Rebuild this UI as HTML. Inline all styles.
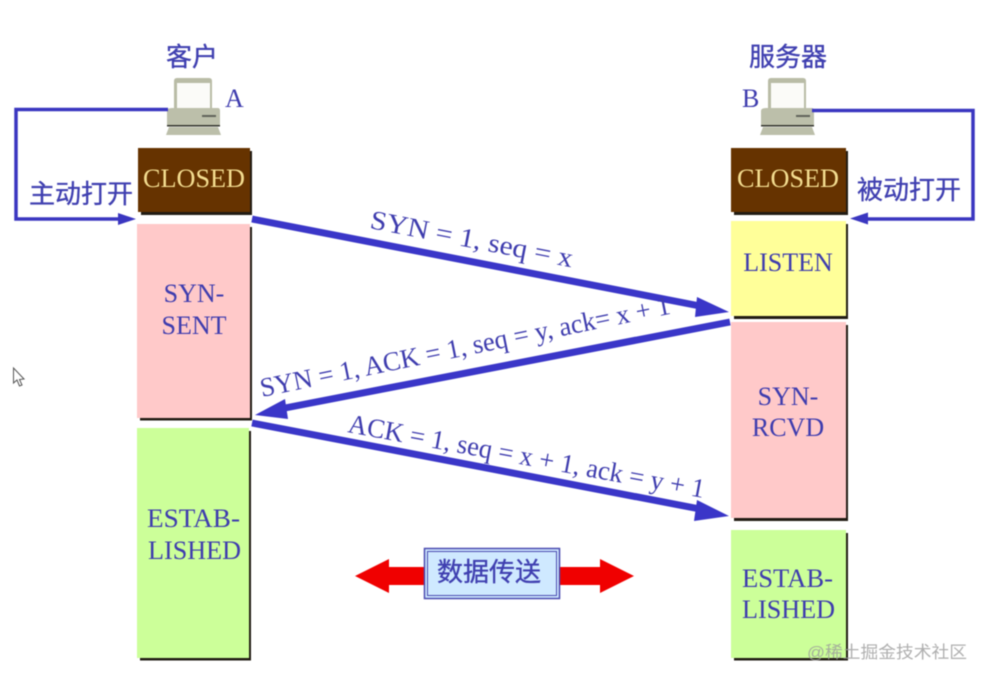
<!DOCTYPE html>
<html><head><meta charset="utf-8"><style>
html,body{margin:0;padding:0;background:#fff}
svg{display:block;filter:blur(.45px)}
text{font-family:"Liberation Serif","Noto Serif CJK SC",serif;fill:#3e3cae}
.c{font-family:"Liberation Sans","Noto Sans CJK SC",sans-serif;fill:#3f3fb0;stroke:#3f3fb0;stroke-width:.35px}
.m{text-anchor:middle}
</style></head><body>
<svg width="987" height="682" viewBox="0 0 987 682" xmlns="http://www.w3.org/2000/svg">
<rect width="987" height="682" fill="#fff"/>
<defs>
<g id="pc">
<path d="M8 3 Q8 0 11 0 L43 0 Q46 0 46 3 L46 31 L8 31Z" fill="#b9bca6"/>
<rect x="11" y="5" width="33" height="25" fill="#fbfbf8"/>
<path d="M1 33 Q1 30 6 30 L52 30 Q54 30 54 33 L54 47 L1 47Z" fill="#bcbfaa"/>
<rect x="36" y="37" width="14" height="2" fill="#60635a"/>
<rect x="1" y="47" width="53" height="1.500" fill="#33352e"/>
<path d="M3 49 L52 49 L55 57 L0 57Z" fill="#bcbfaa"/>
</g>
</defs>

<!-- shadows -->
<g fill="#221c14">
<rect x="141" y="151" width="111" height="64"/>
<rect x="140" y="227" width="112" height="193.500"/>
<rect x="140" y="431" width="111" height="229.500"/>
<rect x="734" y="151" width="114" height="64"/>
<rect x="734" y="224" width="114" height="95"/>
<rect x="734" y="325" width="114" height="196"/>
<rect x="734" y="533" width="114" height="127.500"/>
</g>
<!-- boxes -->
<rect x="138" y="148" width="112" height="64" fill="#663300"/>
<rect x="137" y="224" width="113" height="194" fill="#ffc9c9"/>
<rect x="137" y="428" width="112" height="230" fill="#ccff99"/>
<rect x="731" y="148" width="115" height="64" fill="#663300"/>
<rect x="731" y="221" width="115" height="95" fill="#ffff99"/>
<rect x="731" y="322" width="115" height="196" fill="#ffc9c9"/>
<rect x="731" y="530" width="115" height="128" fill="#ccff99"/>

<!-- computers -->
<use href="#pc" x="166" y="78"/>
<use href="#pc" x="760" y="78"/>

<!-- open loops -->
<g fill="none" stroke="#3a36c0" stroke-width="3.500">
<path d="M168 109.500 H16 V219 H122"/>
<path d="M812 110.500 H973 V219 H862"/>
</g>
<path d="M136 219 L118 213 L118 225Z" fill="#3a36c0"/>
<path d="M850 218.500 L868 212.500 L868 224.500Z" fill="#3a36c0"/>

<!-- handshake arrows -->
<g stroke="#3a36c8" stroke-width="7" fill="none">
<line x1="252" y1="219" x2="700" y2="306"/>
<line x1="730" y1="322" x2="285" y2="408"/>
<line x1="252" y1="423" x2="700" y2="509"/>
</g>
<g fill="#3a36c8">
<path d="M729 312 L697 297 L695 317Z"/>
<path d="M255 415 L285 399 L288 419Z"/>
<path d="M729 516 L697 500 L694 521Z"/>
</g>

<!-- data arrow -->
<path d="M355 576 L389 559 L389 567 L600 567 L600 559 L634 576 L600 593 L600 585 L389 585 L389 593Z" fill="#f00000"/>
<rect x="424.500" y="548.500" width="135" height="50" fill="#cfe9ff" stroke="#4a4ab0" stroke-width="1.500"/>
<rect x="427.500" y="551.500" width="129" height="44" fill="none" stroke="#4a4ab0" stroke-width="1"/>

<!-- state labels -->
<g font-size="26">
<text x="194" y="187" class="m" style="fill:#f4dd90" textLength="102" lengthAdjust="spacingAndGlyphs">CLOSED</text>
<text x="788" y="187" class="m" style="fill:#f4dd90" textLength="102" lengthAdjust="spacingAndGlyphs">CLOSED</text>
<text x="194" y="302" class="m">SYN-</text>
<text x="194" y="334" class="m">SENT</text>
<text x="193.500" y="527" class="m" textLength="93" lengthAdjust="spacingAndGlyphs">ESTAB-</text>
<text x="194.500" y="559" class="m" textLength="93" lengthAdjust="spacingAndGlyphs">LISHED</text>
<text x="788" y="271" class="m">LISTEN</text>
<text x="788" y="405" class="m">SYN-</text>
<text x="788" y="436" class="m">RCVD</text>
<text x="787.500" y="587" class="m" textLength="91" lengthAdjust="spacingAndGlyphs">ESTAB-</text>
<text x="788.500" y="618" class="m" textLength="93" lengthAdjust="spacingAndGlyphs">LISHED</text>
<text x="225" y="107">A</text>
<text x="742" y="107">B</text>
</g>

<!-- CJK labels -->
<g font-size="26">
<text x="192" y="66" class="c m">客户</text>
<text x="788" y="66" class="c m">服务器</text>
<text x="81" y="203" class="c m">主动打开</text>
<text x="909" y="199" class="c m">被动打开</text>
<text x="489" y="581" class="c m">数据传送</text>
</g>

<!-- connector labels -->
<g font-size="27">
<text transform="translate(369 228) rotate(11)" textLength="206" lengthAdjust="spacingAndGlyphs">SYN = 1, seq = x</text>
<text transform="translate(262 397) rotate(-11.500)" textLength="418" lengthAdjust="spacingAndGlyphs">SYN = 1, ACK = 1, seq = y, ack= x + 1</text>
<text transform="translate(347 432) rotate(10.500)" textLength="362" lengthAdjust="spacingAndGlyphs">ACK = 1, seq = x + 1, ack = y + 1</text>
</g>

<!-- cursor -->
<path d="M13.500 368 L13.500 383 L17 380 L19.500 386 L22 385 L19.500 379.500 L24 379Z" fill="#fff" stroke="#555" stroke-width="1"/>

<!-- watermark -->
<text x="807" y="658" font-size="17" style="font-family:'Liberation Sans','Noto Sans CJK SC',sans-serif;fill:#9c9c9c;opacity:.8" textLength="160" lengthAdjust="spacingAndGlyphs">@稀土掘金技术社区</text>
</svg>
</body></html>
